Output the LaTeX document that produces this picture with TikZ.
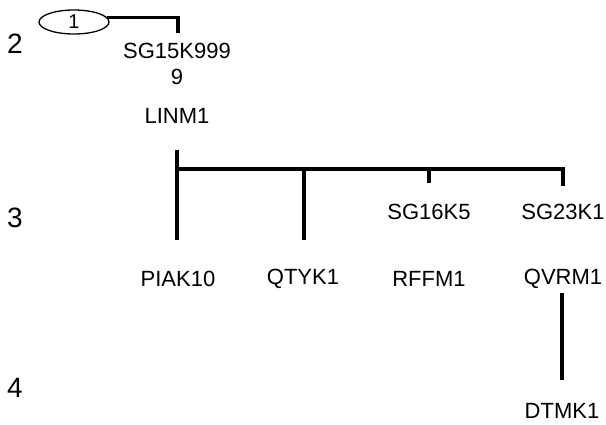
\documentclass[tikz,border=0pt]{standalone}
\usepackage{fontspec}
\setmainfont{Liberation Sans}
\usetikzlibrary{shapes.geometric}
\begin{document}
\begin{tikzpicture}[x=1pt,y=-1pt,
  lbl/.style={inner sep=0pt, font=\fontsize{22}{26}\selectfont},
  lvl/.style={inner sep=0pt, font=\fontsize{28}{32}\selectfont},
  wire/.style={line width=3.2pt},
  oval/.style={draw, ellipse, line width=1.3pt, minimum width=70pt, minimum height=24pt, inner sep=0pt, font=\fontsize{20}{22}\selectfont}]
\useasboundingbox (0,0) rectangle (606,424);
% level numbers
\node[lvl] (l2) at (15,44) {2};
\node[lvl] (l3) at (15,218) {3};
\node[lvl] (l4) at (15,388) {4};
% top oval
\node[oval] (n1) at (74,22) {1};
% labels
\node[lbl] (sg15) at (177,51) {SG15K999};
\node[lbl] (sg15b) at (177,77) {9};
\node[lbl] (linm) at (177,116) {LINM1};
\node[lbl] (sg16) at (429,212) {SG16K5};
\node[lbl] (sg23) at (563,212) {SG23K1};
\node[lbl] (piak) at (178,279) {PIAK10};
\node[lbl] (qtyk) at (303,279) {QTYK1};
\node[lbl] (rffm) at (429,279) {RFFM1};
\node[lbl] (qvrm) at (563,279) {QVRM1};
\node[lbl] (dtmk) at (562,411) {DTMK1};
% junction coordinates
\coordinate (j1) at (178,33);
\coordinate (jl) at (177,150);
\coordinate (bus) at (177,169);
\coordinate (busr) at (563,169);
\coordinate (tp) at (177,240);
\coordinate (tq) at (304,240);
\coordinate (ts16) at (429,183);
\coordinate (ts23) at (563,186);
\coordinate (qv1) at (562,293);
\coordinate (qv2) at (562,380);
% connectors
\draw[wire] (n1.8) -- (n1.8 -| j1) -- (j1);
\draw[wire] (jl) -- (tp);
\draw[wire] (bus) -- (busr) -- (ts23);
\draw[wire] (bus -| tq) -- (tq);
\draw[wire] (bus -| ts16) -- (ts16);
\draw[wire] (qv1) -- (qv2);
\end{tikzpicture}
\end{document}
